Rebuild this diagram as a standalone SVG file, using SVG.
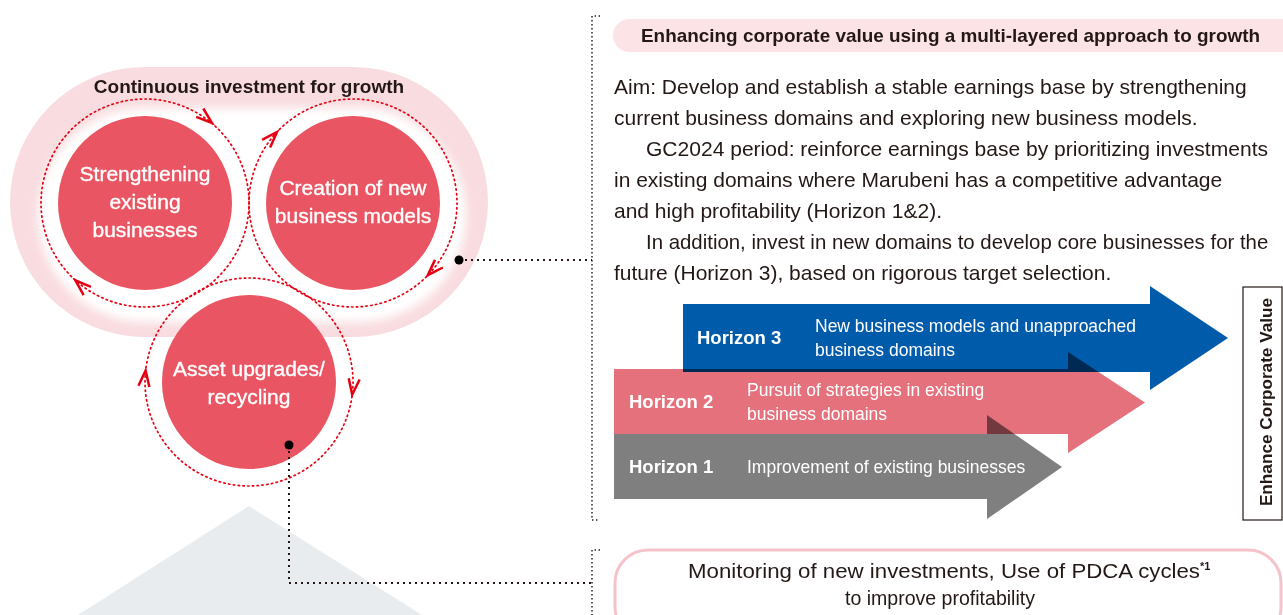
<svg xmlns="http://www.w3.org/2000/svg" xmlns:xlink="http://www.w3.org/1999/xlink" width="1283" height="615" viewBox="0 0 1283 615">
<style>
text{font-family:"Liberation Sans",Arial,sans-serif;fill:#231815}
.ct{fill:#fff;font-size:21px;text-anchor:middle;stroke:#fff;stroke-width:0.35}
.body{font-size:21px}
.hz{fill:#fff;font-size:18.5px;font-weight:bold}
.hd{fill:#fff;font-size:17.5px}
.ring{fill:none;stroke:#E60012;stroke-width:1.7;stroke-dasharray:1.4 3.4;stroke-linecap:round}
.circ{fill:#E95562}
.conn{fill:none;stroke:#231815;stroke-width:2;stroke-dasharray:2 4}
.brk{fill:none;stroke:#231815;stroke-width:1.4;stroke-dasharray:1.4 2.6}
.mul{mix-blend-mode:multiply}
</style>
<defs>
<path id="chev" d="M-16 -5.5 L0 0 L-16 5.5" fill="none" stroke="#E60012" stroke-width="2.5" stroke-linejoin="miter" stroke-miterlimit="10"/>
<filter id="soft" x="-10%" y="-10%" width="120%" height="120%"><feGaussianBlur stdDeviation="5"/></filter>
</defs>

<g id="background">
<polygon points="249,506 70,620 430,620" fill="#E9ECEF"/>
<rect x="10" y="67" width="478" height="270" rx="135" fill="#F9DCDF"/>
<rect x="38" y="108" width="428" height="214" rx="107" fill="#fff" filter="url(#soft)"/>
<text x="249" y="93" text-anchor="middle" font-size="19" font-weight="bold">Continuous investment for growth</text>
</g>

<g id="node-strengthening">
<circle class="ring" cx="145" cy="203" r="104"/>
<circle class="circ" cx="145" cy="203" r="87"/>
<text class="ct" x="145" y="181">Strengthening</text>
<text class="ct" x="145" y="209">existing</text>
<text class="ct" x="145" y="237">businesses</text>
<use xlink:href="#chev" transform="translate(212,123) rotate(40)"/>
<use xlink:href="#chev" transform="translate(75.4,280.3) rotate(222)"/>
</g>

<g id="node-creation">
<circle class="ring" cx="353" cy="203" r="104"/>
<circle class="circ" cx="353" cy="203" r="87"/>
<text class="ct" x="353" y="195">Creation of new</text>
<text class="ct" x="353" y="223">business models</text>
<use xlink:href="#chev" transform="translate(277,132) rotate(-47)"/>
<use xlink:href="#chev" transform="translate(427.8,275.2) rotate(134)"/>
</g>

<g id="node-asset">
<circle class="ring" cx="249" cy="382" r="104"/>
<circle class="circ" cx="249" cy="382" r="87"/>
<text class="ct" x="249" y="376">Asset upgrades/</text>
<text class="ct" x="249" y="404">recycling</text>
<use xlink:href="#chev" transform="translate(145.6,370.5) rotate(276)"/>
<use xlink:href="#chev" transform="translate(352.2,394.7) rotate(97)"/>
</g>

<g id="connectors">
<path class="conn" d="M289 445 V583 H592"/>
<path class="conn" d="M459 260 H592"/>
<path class="brk" d="M600 16 H592 V520 H600"/>
<path class="brk" d="M600 550 H592 V615"/>
<circle cx="289" cy="445" r="4.5" fill="#000"/>
<circle cx="459" cy="260" r="4.5" fill="#000"/>
</g>

<g id="header">
<rect x="613" y="19" width="700" height="33" rx="16.5" fill="#FCE3E6"/>
<text x="641" y="42" font-size="19" font-weight="bold" textLength="619" lengthAdjust="spacingAndGlyphs">Enhancing corporate value using a multi-layered approach to growth</text>
</g>

<g id="body-text">
<text class="body" x="614" y="94">Aim: Develop and establish a stable earnings base by strengthening</text>
<text class="body" x="614" y="125">current business domains and exploring new business models.</text>
<text class="body" x="646" y="156" textLength="622" lengthAdjust="spacingAndGlyphs">GC2024 period: reinforce earnings base by prioritizing investments</text>
<text class="body" x="614" y="187">in existing domains where Marubeni has a competitive advantage</text>
<text class="body" x="614" y="218">and high profitability (Horizon 1&amp;2).</text>
<text x="646" y="249" font-size="20.4">In addition, invest in new domains to develop core businesses for the</text>
<text class="body" x="614" y="280">future (Horizon 3), based on rigorous target selection.</text>
</g>

<g id="horizon-3">
<path d="M683 304 H1150 V286 L1228 338 L1150 390 V372 H683 Z" fill="#005BAB"/>
<text class="hz" x="697" y="344">Horizon 3</text>
<text class="hd" x="815" y="332">New business models and unapproached</text>
<text class="hd" x="815" y="356">business domains</text>
</g>

<g id="horizon-2">
<path class="mul" d="M614 369 H1068 V352 L1145 402.5 L1068 453 V434 H614 Z" fill="#E5717C"/>
<text class="hz" x="629" y="408">Horizon 2</text>
<text class="hd" x="747" y="396">Pursuit of strategies in existing</text>
<text class="hd" x="747" y="420">business domains</text>
</g>

<g id="horizon-1">
<path class="mul" d="M614 434 H987 V415 L1062 467 L987 519 V499 H614 Z" fill="#7F7F7F"/>
<text class="hz" x="629" y="473">Horizon 1</text>
<text class="hd" x="747" y="473">Improvement of existing businesses</text>
</g>

<g id="enhance-value">
<rect x="1243" y="287" width="39" height="233" fill="#fff" stroke="#231815" stroke-width="1.2"/>
<text transform="translate(1272,402) rotate(-90)" text-anchor="middle" font-size="17.2" font-weight="bold">Enhance Corporate Value</text>
</g>

<g id="monitoring">
<rect x="615" y="550" width="666" height="90" rx="33" fill="#fff" stroke="#F5C3C9" stroke-width="3"/>
<text x="688" y="578" font-size="20.5"><tspan textLength="512" lengthAdjust="spacingAndGlyphs">Monitoring of new investments, Use of PDCA cycles</tspan><tspan font-size="11" dy="-8" font-weight="bold">*1</tspan></text>
<text x="845" y="605" font-size="20.5" textLength="190" lengthAdjust="spacingAndGlyphs">to improve profitability</text>
</g>
</svg>
